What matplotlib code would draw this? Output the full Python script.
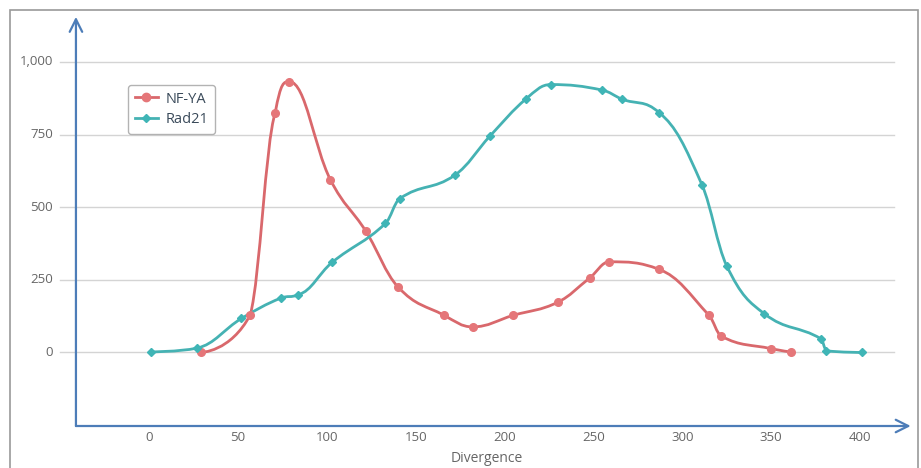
import matplotlib
matplotlib.use("Agg")
import matplotlib.pyplot as plt
from matplotlib.path import Path
from matplotlib.patches import PathPatch, Rectangle
from matplotlib.lines import Line2D

# ---- data ----
nf_x = [29, 57, 71, 79, 102, 122, 140, 166, 182, 205, 230, 248, 259, 287, 315, 322, 350, 361]
nf_y = [0, 130, 825, 932, 595, 417, 226, 128, 88, 128, 173, 257, 312, 286, 128, 56, 13, 2]

rad_x = [1, 27, 52, 74, 84, 103, 133, 141, 172, 192, 212, 226, 255, 266, 287, 311, 325, 346, 378, 381, 401]
rad_y = [2, 15, 117, 187, 199, 310, 444, 529, 610, 746, 872, 922, 903, 872, 825, 578, 298, 134, 47, 6, 0]

x_ticks = [0, 50, 100, 150, 200, 250, 300, 350, 400]
y_ticks = [0, 250, 500, 750, 1000]
y_tick_labels = ["0", "250", "500", "750", "1,000"]
series_names = ["NF-YA", "Rad21"]
x_label = "Divergence"

RED = "#d9686c"
RED_M = "#e57679"
TEAL = "#45b2b3"
TEAL_M = "#3fb5b6"
AXIS_BLUE = "#4d7db8"
GRID = "#d4d4d4"
TXT = "#666666"


def spline_path(xs, ys, smoothing=1.5):
    """Highcharts-style spline through the given points."""
    n = len(xs)
    right = [(xs[i], ys[i]) for i in range(n)]
    left = [(xs[i], ys[i]) for i in range(n)]
    d = smoothing + 1
    for i in range(1, n - 1):
        px, py = xs[i], ys[i]
        lx, ly = xs[i - 1], ys[i - 1]
        nx, ny = xs[i + 1], ys[i + 1]
        lcx = (smoothing * px + lx) / d
        lcy = (smoothing * py + ly) / d
        rcx = (smoothing * px + nx) / d
        rcy = (smoothing * py + ny) / d
        corr = 0
        if rcx != lcx:
            corr = (rcy - lcy) * (rcx - px) / (rcx - lcx) + py - rcy
        lcy += corr
        rcy += corr
        if lcy > ly and lcy > py:
            lcy = max(ly, py); rcy = 2 * py - lcy
        elif lcy < ly and lcy < py:
            lcy = min(ly, py); rcy = 2 * py - lcy
        if rcy > ny and rcy > py:
            rcy = max(ny, py); lcy = 2 * py - rcy
        elif rcy < ny and rcy < py:
            rcy = min(ny, py); lcy = 2 * py - rcy
        left[i] = (lcx, lcy)
        right[i] = (rcx, rcy)
    verts = [(xs[0], ys[0])]
    codes = [Path.MOVETO]
    for i in range(1, n):
        verts += [right[i - 1], left[i], (xs[i], ys[i])]
        codes += [Path.CURVE4] * 3
    return Path(verts, codes)


fig = plt.figure(figsize=(9.21, 4.68), dpi=100)
W, H = 921, 468

# outer frame
fig.patches.append(Rectangle((10 / W, -0.05), (918 - 10) / W, (H - 10) / H + 0.05,
                             transform=fig.transFigure, fill=False,
                             edgecolor="#9a9a9a", linewidth=1.2))

ax = fig.add_axes([60 / W, (H - 426) / H, (910 - 60) / W, (426 - 18) / H])
ax.set_xlim(-50.07, 428.1)
ax.set_ylim(-253, 1151)
for s in ax.spines.values():
    s.set_visible(False)
ax.set_xticks([])
ax.set_yticks([])
ax.patch.set_alpha(0)

# grid lines
for yv in y_ticks:
    ax.plot([-50.07, 419], [yv, yv], color=GRID, linewidth=1.0, zorder=1, clip_on=False)

# tick labels
for yv, lab in zip(y_ticks, y_tick_labels):
    ax.text(-54, yv, lab, ha="right", va="center", fontsize=9.5, color=TXT,
            family="Open Sans")
for xv in x_ticks:
    ax.text(xv, -292, str(xv), ha="center", va="center", fontsize=9.5, color=TXT,
            family="Open Sans")
ax.text(190, -366, x_label, ha="center", va="center", fontsize=10, color=TXT,
        family="Open Sans")

# axes with arrows
ax_x0 = -41.1
ax.annotate("", xy=(428.5, -253), xytext=(ax_x0, -253),
            arrowprops=dict(arrowstyle="->,head_length=0.9,head_width=0.45",
                            color=AXIS_BLUE, lw=1.6, shrinkA=0, shrinkB=0),
            annotation_clip=False, zorder=5)
ax.annotate("", xy=(ax_x0, 1155), xytext=(ax_x0, -253),
            arrowprops=dict(arrowstyle="->,head_length=0.9,head_width=0.45",
                            color=AXIS_BLUE, lw=1.6, shrinkA=0, shrinkB=0),
            annotation_clip=False, zorder=5)

# series
ax.add_patch(PathPatch(spline_path(nf_x, nf_y), fill=False, edgecolor=RED,
                       linewidth=2.0, zorder=3, capstyle="round", joinstyle="round"))
ax.plot(nf_x, nf_y, linestyle="none", marker="o", markersize=5.5,
        markerfacecolor=RED_M, markeredgecolor=RED_M, zorder=4)
ax.add_patch(PathPatch(spline_path(rad_x, rad_y), fill=False, edgecolor=TEAL,
                       linewidth=2.0, zorder=3, capstyle="round", joinstyle="round"))
ax.plot(rad_x, rad_y, linestyle="none", marker="D", markersize=4.2,
        markerfacecolor=TEAL_M, markeredgecolor=TEAL_M, zorder=4)

# legend
handles = [Line2D([], [], color=RED, lw=2, marker="o", markersize=6,
                  markerfacecolor=RED_M, markeredgecolor=RED_M),
           Line2D([], [], color=TEAL, lw=2, marker="D", markersize=4.5,
                  markerfacecolor=TEAL_M, markeredgecolor=TEAL_M)]
leg = ax.legend(handles, series_names, loc="upper left",
                bbox_to_anchor=((128 - 60) / 850, (426 - 85) / 408),
                frameon=True, fancybox=True, handlelength=1.6, handletextpad=0.5,
                borderpad=0.45, labelspacing=0.4, borderaxespad=0,
                prop={"family": "Open Sans", "size": 10.5})
leg.get_frame().set_edgecolor("#a0a0a0")
leg.get_frame().set_linewidth(1.0)
for t in leg.get_texts():
    t.set_color("#3a4a5a")

fig.savefig("out.png", dpi=100)
